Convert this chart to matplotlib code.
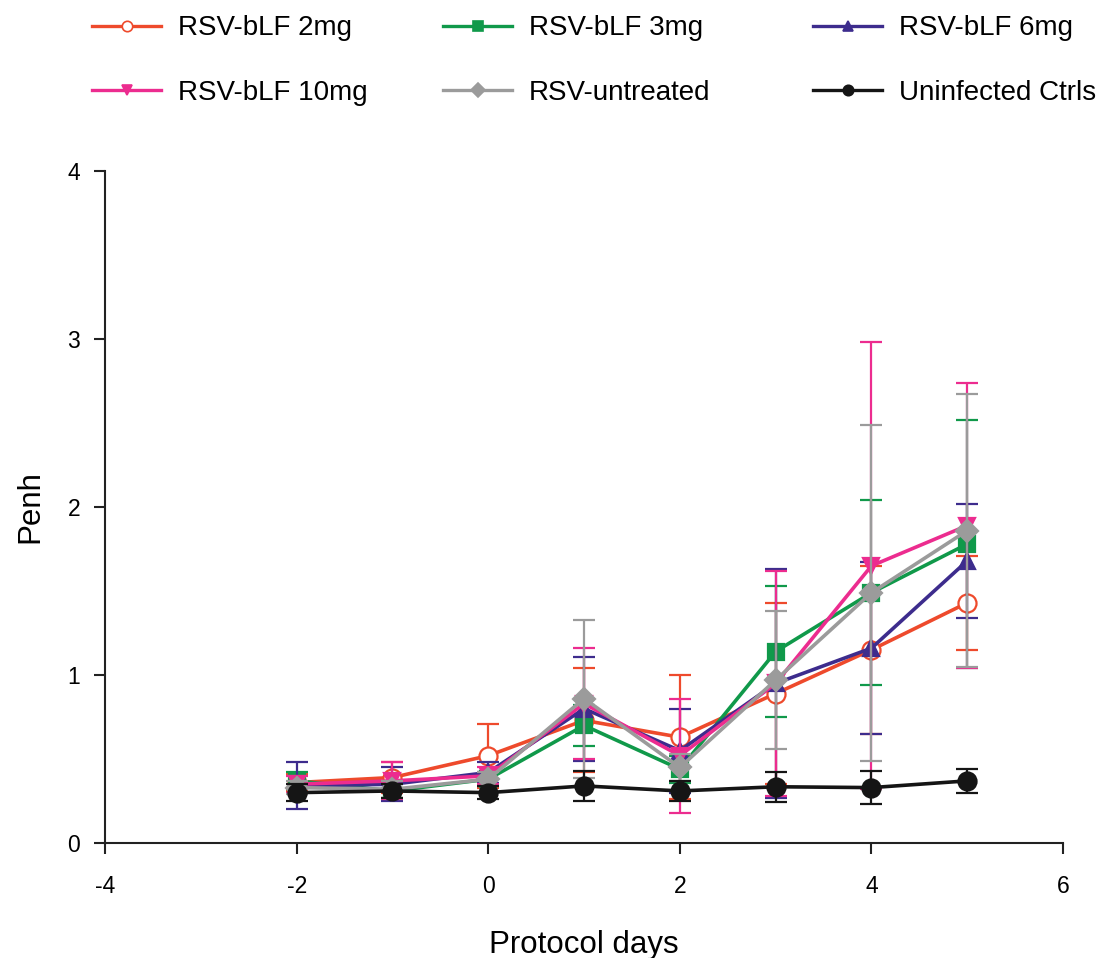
import numpy as np
import matplotlib
matplotlib.use("Agg")
import matplotlib.pyplot as plt
from matplotlib.lines import Line2D

plt.rcParams['font.family'] = ['Liberation Sans', 'DejaVu Sans']
plt.rcParams['axes.unicode_minus'] = False

days = [-2, -1, 0, 1, 2, 3, 4, 5]

blf2 = [0.36, 0.39, 0.52, 0.73, 0.63, 0.89, 1.15, 1.43]
blf2_err = [0.05, 0.09, 0.19, 0.31, 0.37, 0.54, 0.50, 0.28]
blf3 = [0.37, 0.31, 0.38, 0.70, 0.44, 1.14, 1.49, 1.78]
blf3_err = [0.05, 0.04, 0.04, 0.12, 0.08, 0.39, 0.55, 0.74]
blf6 = [0.34, 0.35, 0.42, 0.80, 0.55, 0.95, 1.16, 1.68]
blf6_err = [0.14, 0.10, 0.06, 0.31, 0.25, 0.68, 0.51, 0.34]
blf10 = [0.35, 0.37, 0.40, 0.83, 0.52, 0.95, 1.65, 1.89]
blf10_err = [0.05, 0.11, 0.05, 0.33, 0.34, 0.67, 1.33, 0.85]
untreated = [0.33, 0.32, 0.38, 0.86, 0.45, 0.97, 1.49, 1.86]
untreated_err = [0.04, 0.05, 0.04, 0.47, 0.08, 0.41, 1.00, 0.81]
ctrl = [0.30, 0.31, 0.30, 0.34, 0.31, 0.335, 0.33, 0.37]
ctrl_err = [0.05, 0.04, 0.04, 0.09, 0.06, 0.09, 0.10, 0.07]

fig = plt.figure(figsize=(11.14, 9.58), dpi=100)
ax = fig.add_axes([0.0943, 0.12, 0.86, 0.7015])

series = [
    ("RSV-bLF 2mg", blf2, blf2_err, '#EE4A2C', 'o', 'white'),
    ("RSV-bLF 3mg", blf3, blf3_err, '#10994A', 's', None),
    ("RSV-bLF 6mg", blf6, blf6_err, '#3D2C8D', '^', None),
    ("RSV-bLF 10mg", blf10, blf10_err, '#EC2C8F', 'v', None),
    ("RSV-untreated", untreated, untreated_err, '#9B9B9B', 'D', None),
    ("Uninfected Ctrls", ctrl, ctrl_err, '#151515', 'o', None),
]
sizes = {'o': 13, 's': 11, '^': 12, 'v': 12, 'D': 11}

handles = []
for i, (lab, y, e, c, m, fc) in enumerate(series):
    ax.errorbar(days, y, yerr=e, color=c, marker=m, ms=sizes[m],
                mfc=fc if fc else c, mec=c, mew=1.6, lw=2.6,
                elinewidth=1.6, capsize=8, capthick=2.2,
                zorder=3 + i)
    handles.append(Line2D([], [], color=c, marker=m, ms=7.5,
                          mfc=fc if fc else c, mec=c, mew=1.2, lw=2.4))

ax.set_xlim(-4, 6)
ax.set_ylim(0, 4)
ax.set_xticks([-4, -2, 0, 2, 4, 6])
ax.set_yticks([0, 1, 2, 3, 4])
ax.spines['top'].set_visible(False)
ax.spines['right'].set_visible(False)
for s in ('left', 'bottom'):
    ax.spines[s].set_linewidth(1.5)
    ax.spines[s].set_color('#222222')
ax.tick_params(axis='x', direction='out', length=8, width=1.5,
               labelsize=16.5, color='#222222', pad=15)
ax.tick_params(axis='y', direction='out', length=8, width=1.5,
               labelsize=16.5, color='#222222', pad=10)
ax.set_xlabel("Protocol days", fontsize=22.5, labelpad=23)
ax.set_ylabel("Penh", fontsize=22.5, labelpad=16)

# legend laid out as three separate columns
cols = [(0, 3, 0.0826), (1, 4, 0.3977), (2, 5, 0.7298)]
for a, b, x in cols:
    fig.legend([handles[a], handles[b]], [series[a][0], series[b][0]],
               loc='upper left', bbox_to_anchor=(x, 0.984),
               frameon=False, fontsize=20, handlelength=2.5,
               labelspacing=1.4, handletextpad=0.6,
               borderpad=0, borderaxespad=0)

fig.savefig("out.png", dpi=100)
